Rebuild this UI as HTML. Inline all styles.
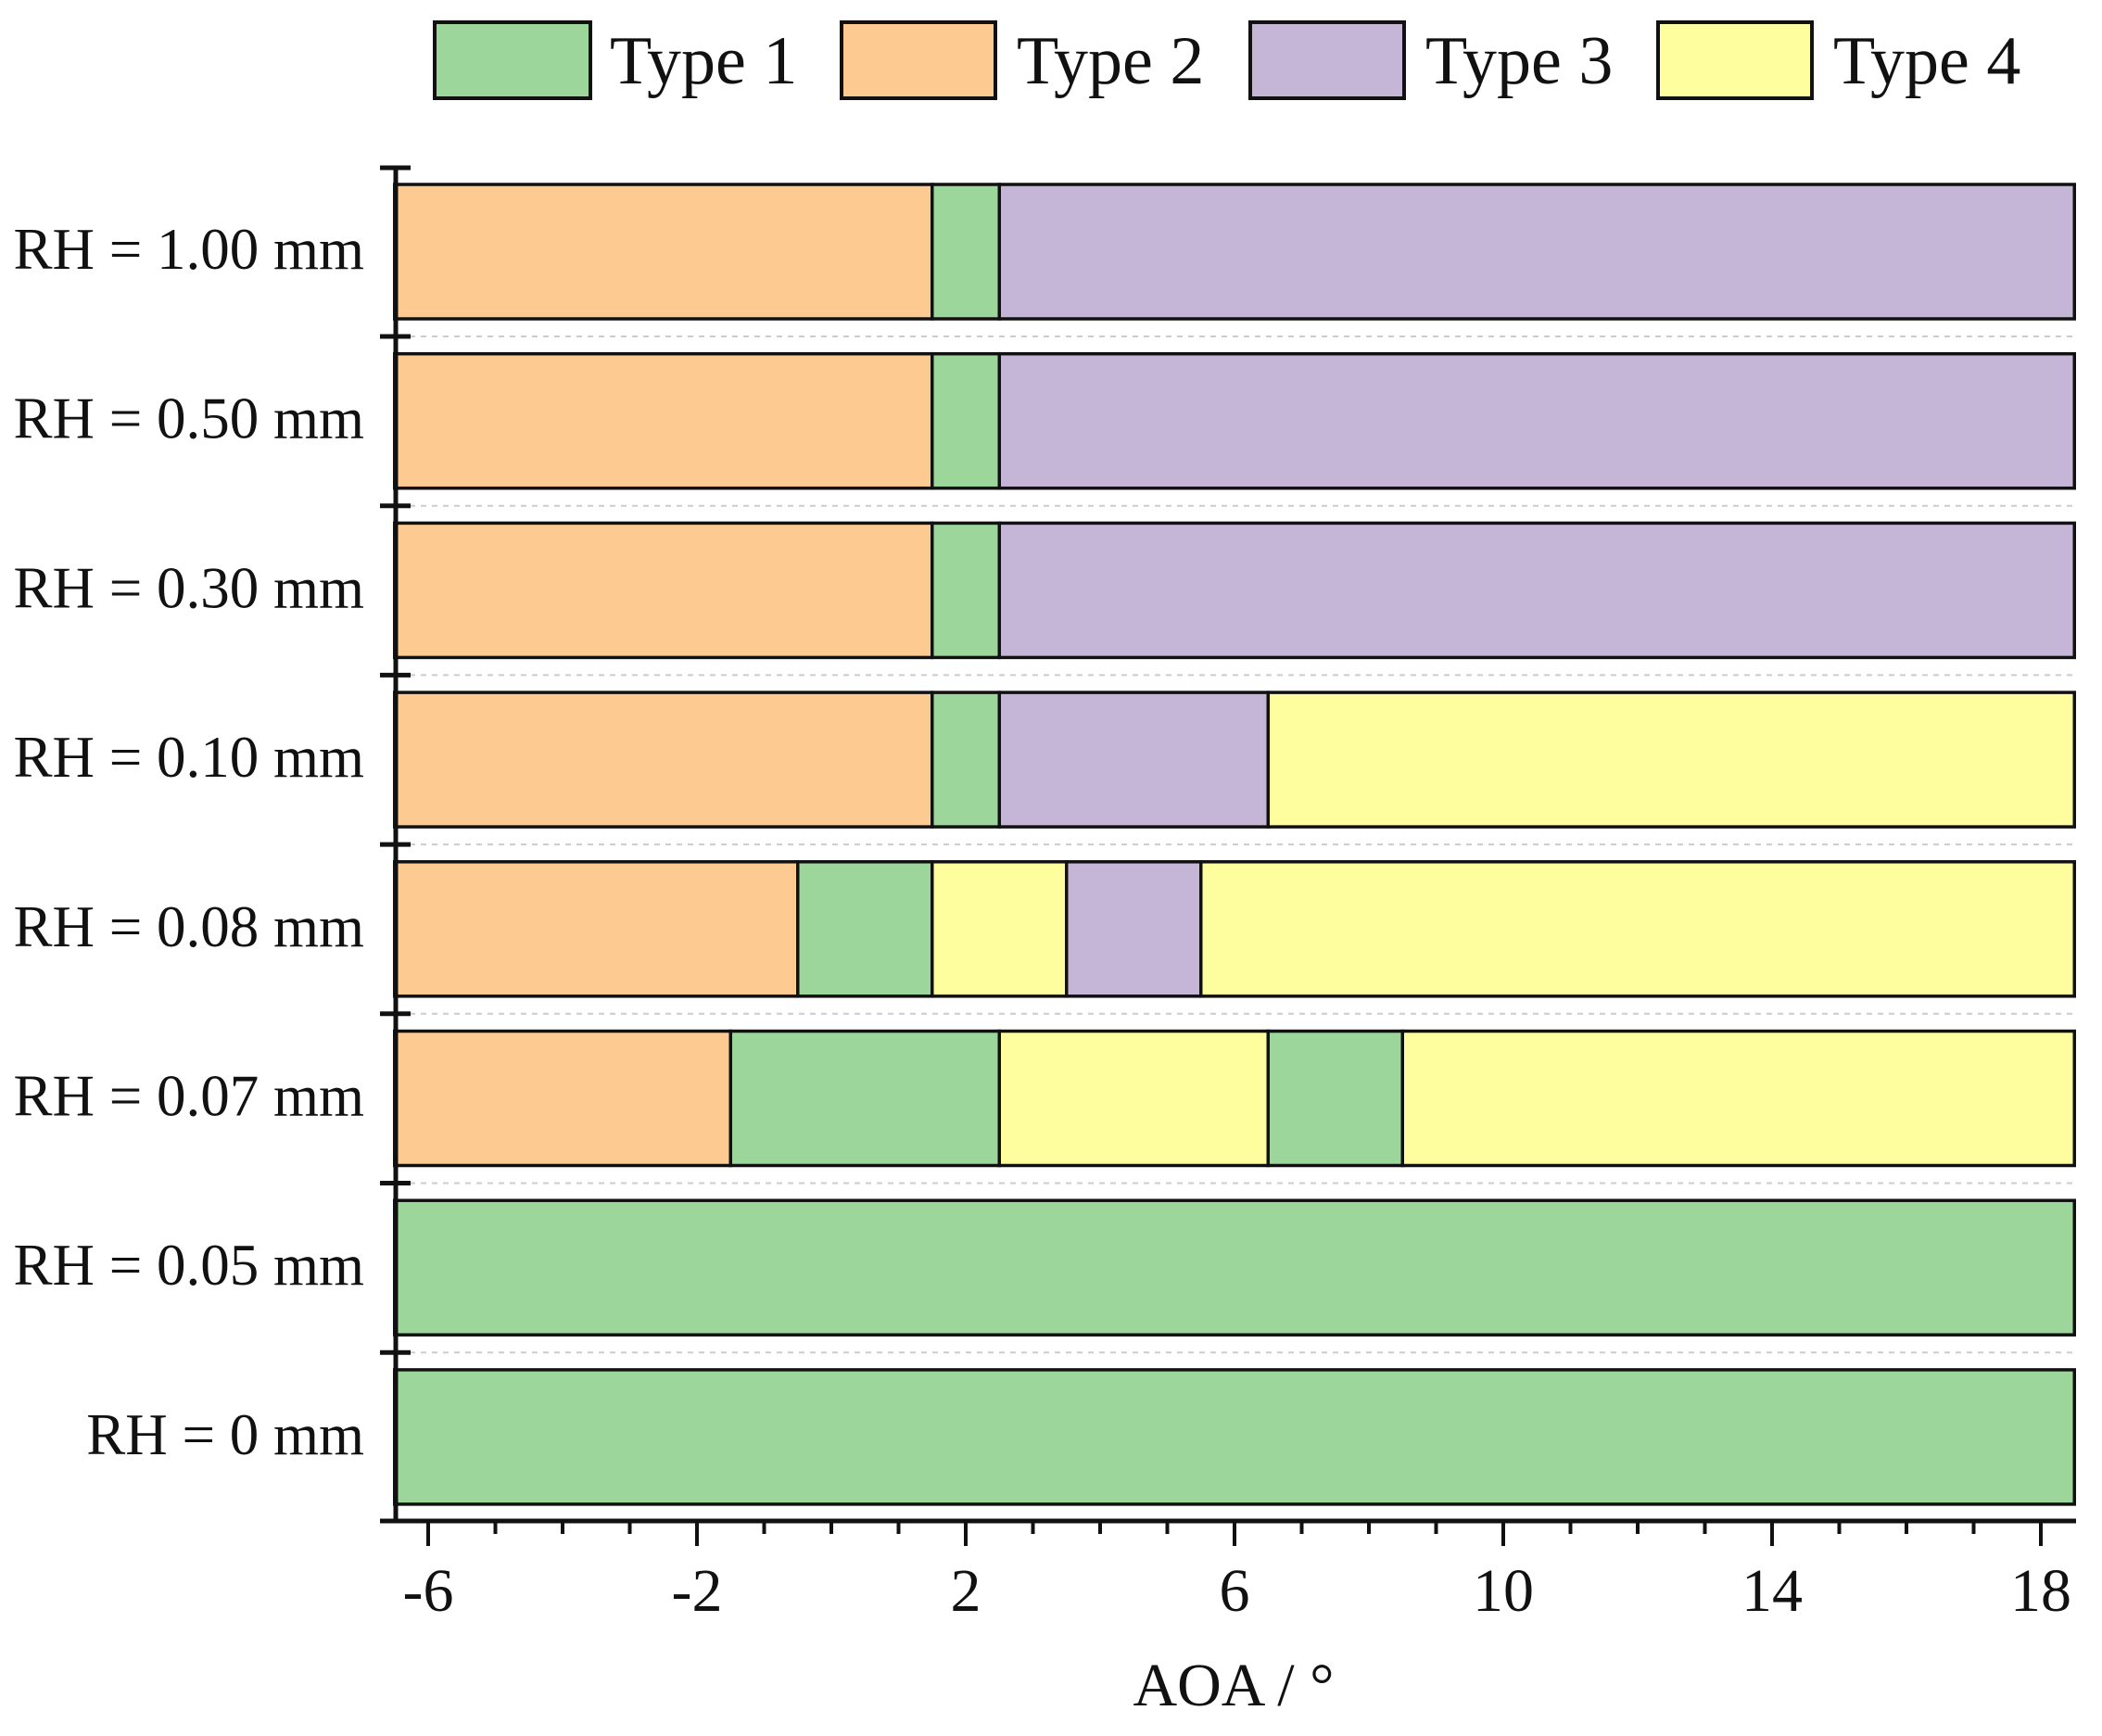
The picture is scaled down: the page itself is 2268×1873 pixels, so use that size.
<!DOCTYPE html>
<html><head><meta charset="utf-8"><style>
html,body{margin:0;padding:0;background:#fff;}
svg{display:block;}
text{font-family:"Liberation Serif",serif;fill:#111;}
</style></head><body>
<svg width="2268" height="1873" viewBox="0 0 2268 1873" xmlns="http://www.w3.org/2000/svg">
<g stroke="#111" stroke-width="4">
<rect x="469" y="24" width="168" height="82" fill="#9cd69b"/>
<rect x="908" y="24" width="166" height="82" fill="#fdcb91"/>
<rect x="1349" y="24" width="166" height="82" fill="#c5b5d7"/>
<rect x="1789" y="24" width="166" height="82" fill="#fefe9e"/>
</g>
<g font-size="74">
<text x="658" y="90">Type 1</text>
<text x="1097" y="90">Type 2</text>
<text x="1538" y="90">Type 3</text>
<text x="1978" y="90">Type 4</text>
</g>
<g stroke="#ccc" stroke-width="2" stroke-dasharray="6,6">
<line x1="430" x2="2238" y1="363" y2="363"/>
<line x1="430" x2="2238" y1="545.7" y2="545.7"/>
<line x1="430" x2="2238" y1="728.4" y2="728.4"/>
<line x1="430" x2="2238" y1="911.1" y2="911.1"/>
<line x1="430" x2="2238" y1="1093.8" y2="1093.8"/>
<line x1="430" x2="2238" y1="1276.5" y2="1276.5"/>
<line x1="430" x2="2238" y1="1459.2" y2="1459.2"/>
</g>
<g stroke="#111" stroke-width="3.5">
<!-- 1.00 -->
<rect x="425.75" y="199" width="580" height="145" fill="#fdcb91"/>
<rect x="1005.75" y="199" width="72.5" height="145" fill="#9cd69b"/>
<rect x="1078.25" y="199" width="1160" height="145" fill="#c5b5d7"/>
<!-- 0.50 -->
<rect x="425.75" y="381.7" width="580" height="145" fill="#fdcb91"/>
<rect x="1005.75" y="381.7" width="72.5" height="145" fill="#9cd69b"/>
<rect x="1078.25" y="381.7" width="1160" height="145" fill="#c5b5d7"/>
<!-- 0.30 -->
<rect x="425.75" y="564.4" width="580" height="145" fill="#fdcb91"/>
<rect x="1005.75" y="564.4" width="72.5" height="145" fill="#9cd69b"/>
<rect x="1078.25" y="564.4" width="1160" height="145" fill="#c5b5d7"/>
<!-- 0.10 -->
<rect x="425.75" y="747.1" width="580" height="145" fill="#fdcb91"/>
<rect x="1005.75" y="747.1" width="72.5" height="145" fill="#9cd69b"/>
<rect x="1078.25" y="747.1" width="290" height="145" fill="#c5b5d7"/>
<rect x="1368.25" y="747.1" width="870" height="145" fill="#fefe9e"/>
<!-- 0.08 -->
<rect x="425.75" y="929.8" width="435" height="145" fill="#fdcb91"/>
<rect x="860.75" y="929.8" width="145" height="145" fill="#9cd69b"/>
<rect x="1005.75" y="929.8" width="145" height="145" fill="#fefe9e"/>
<rect x="1150.75" y="929.8" width="145" height="145" fill="#c5b5d7"/>
<rect x="1295.75" y="929.8" width="942.5" height="145" fill="#fefe9e"/>
<!-- 0.07 -->
<rect x="425.75" y="1112.5" width="362.5" height="145" fill="#fdcb91"/>
<rect x="788.25" y="1112.5" width="290" height="145" fill="#9cd69b"/>
<rect x="1078.25" y="1112.5" width="290" height="145" fill="#fefe9e"/>
<rect x="1368.25" y="1112.5" width="145" height="145" fill="#9cd69b"/>
<rect x="1513.25" y="1112.5" width="725" height="145" fill="#fefe9e"/>
<!-- 0.05 -->
<rect x="425.75" y="1295.2" width="1812.5" height="145" fill="#9cd69b"/>
<!-- 0 -->
<rect x="425.75" y="1477.9" width="1812.5" height="145" fill="#9cd69b"/>
</g>
<g font-size="63" text-anchor="end">
<text x="393" y="290">RH = 1.00 mm</text>
<text x="393" y="472.7">RH = 0.50 mm</text>
<text x="393" y="655.4">RH = 0.30 mm</text>
<text x="393" y="838.1">RH = 0.10 mm</text>
<text x="393" y="1020.8">RH = 0.08 mm</text>
<text x="393" y="1203.5">RH = 0.07 mm</text>
<text x="393" y="1386.2">RH = 0.05 mm</text>
<text x="393" y="1568.9">RH = 0 mm</text>
</g>
<g stroke="#111" stroke-width="5">
<line x1="427" x2="427" y1="179" y2="1643"/>
<line x1="410" x2="2240" y1="1641" y2="1641"/>
<line x1="410" x2="443" y1="181" y2="181"/>
<line x1="410" x2="443" y1="363" y2="363"/>
<line x1="410" x2="443" y1="545.7" y2="545.7"/>
<line x1="410" x2="443" y1="728.4" y2="728.4"/>
<line x1="410" x2="443" y1="911.1" y2="911.1"/>
<line x1="410" x2="443" y1="1093.8" y2="1093.8"/>
<line x1="410" x2="443" y1="1276.5" y2="1276.5"/>
<line x1="410" x2="443" y1="1459.2" y2="1459.2"/>
<line x1="410" x2="443" y1="1641" y2="1641"/>
</g>
<g stroke="#111" stroke-width="4">
<line x1="462" x2="462" y1="1641" y2="1668"/>
<line x1="752" x2="752" y1="1641" y2="1668"/>
<line x1="1042" x2="1042" y1="1641" y2="1668"/>
<line x1="1332" x2="1332" y1="1641" y2="1668"/>
<line x1="1622" x2="1622" y1="1641" y2="1668"/>
<line x1="1912" x2="1912" y1="1641" y2="1668"/>
<line x1="2202" x2="2202" y1="1641" y2="1668"/>
<line x1="534.5" x2="534.5" y1="1641" y2="1655"/>
<line x1="607" x2="607" y1="1641" y2="1655"/>
<line x1="679.5" x2="679.5" y1="1641" y2="1655"/>
<line x1="824.5" x2="824.5" y1="1641" y2="1655"/>
<line x1="897" x2="897" y1="1641" y2="1655"/>
<line x1="969.5" x2="969.5" y1="1641" y2="1655"/>
<line x1="1114.5" x2="1114.5" y1="1641" y2="1655"/>
<line x1="1187" x2="1187" y1="1641" y2="1655"/>
<line x1="1259.5" x2="1259.5" y1="1641" y2="1655"/>
<line x1="1404.5" x2="1404.5" y1="1641" y2="1655"/>
<line x1="1477" x2="1477" y1="1641" y2="1655"/>
<line x1="1549.5" x2="1549.5" y1="1641" y2="1655"/>
<line x1="1694.5" x2="1694.5" y1="1641" y2="1655"/>
<line x1="1767" x2="1767" y1="1641" y2="1655"/>
<line x1="1839.5" x2="1839.5" y1="1641" y2="1655"/>
<line x1="1984.5" x2="1984.5" y1="1641" y2="1655"/>
<line x1="2057" x2="2057" y1="1641" y2="1655"/>
<line x1="2129.5" x2="2129.5" y1="1641" y2="1655"/>
</g>
<g font-size="66" text-anchor="middle">
<text x="462" y="1738">-6</text>
<text x="752" y="1738">-2</text>
<text x="1042" y="1738">2</text>
<text x="1332" y="1738">6</text>
<text x="1622" y="1738">10</text>
<text x="1912" y="1738">14</text>
<text x="2202" y="1738">18</text>
<text x="1331" y="1840">AOA / °</text>
</g>
</svg>
</body></html>
